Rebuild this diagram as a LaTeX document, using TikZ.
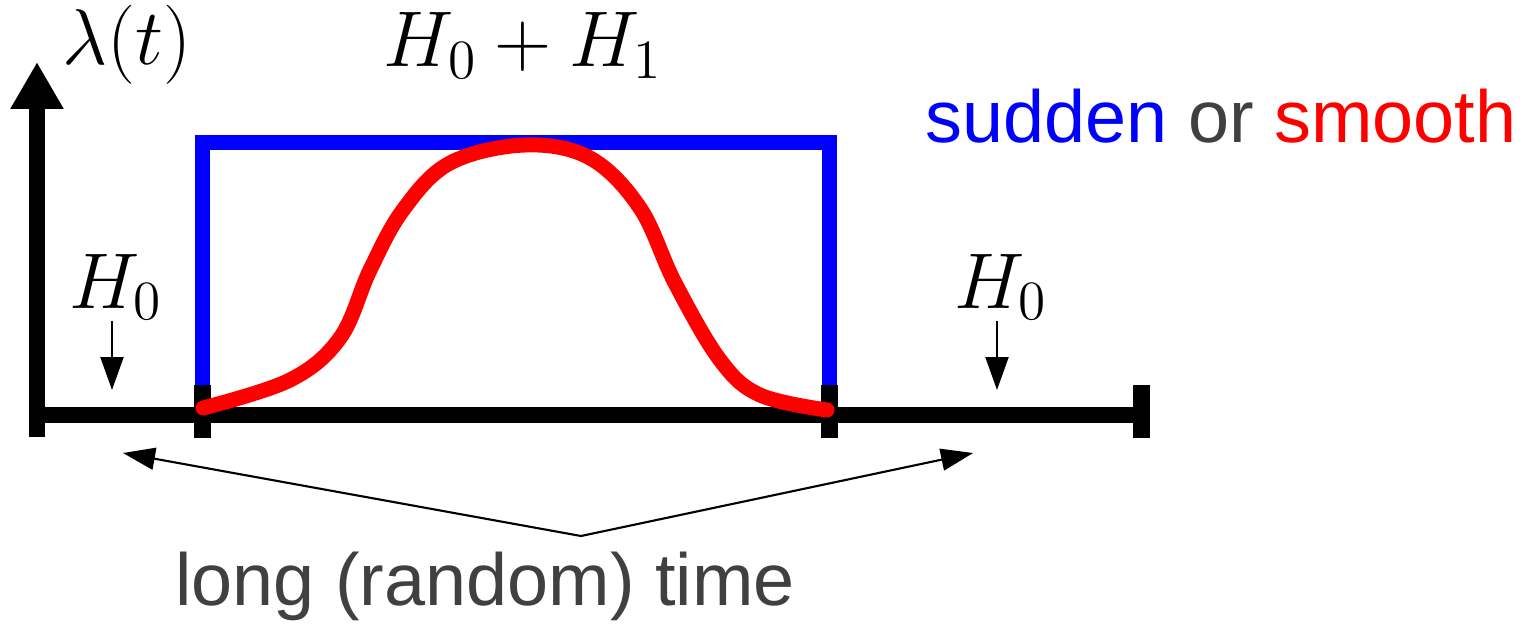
\RequirePackage{fix-cm}
\documentclass[tikz,border=0pt]{standalone}
\usepackage{fontspec}
\setsansfont{Liberation Sans}
\usepackage{tikz}
\usetikzlibrary{arrows.meta}

\begin{document}
\begin{tikzpicture}[x=1cm,y=1cm]
	\definecolor{color1}{HTML}{0000FF}
	\definecolor{color2}{HTML}{FF0000}
	\definecolor{color3}{HTML}{404040}
	\tikzset{
		axisline/.style={line width=0.16cm, black},
		tickline/.style={line width=0.17cm, black},
		mathlabel/.style={inner sep=0pt, anchor=base, font=\fontsize{22.5}{27}\selectfont},
		textlabel/.style={inner sep=0pt, anchor=base, font=\sffamily\fontsize{21}{25}\selectfont, text=color3},
		smallarrow/.style={line width=0.6pt, -{Triangle[width=0.23cm,length=0.33cm]}},
		timearrow/.style={line width=0.6pt, -{Triangle[width=0.22cm,length=0.32cm]}}
	}
	\useasboundingbox (0,0) rectangle (15.24,6.23);
	%% Coordinates ------
	\coordinate (O) at (0.37,1.86);
	\coordinate (ytip) at (0.37,5.61);
	\coordinate (xstart) at (0.37,2.08);
	\coordinate (xend) at (11.41,2.08);
	\coordinate (t1) at (2.02,2.08);
	\coordinate (t2) at (8.29,2.08);
	\coordinate (h0ltip) at (1.12,2.33);
	\coordinate (h0rtip) at (9.97,2.33);
	\coordinate (apex) at (5.81,0.87);
	\coordinate (ltip) at (1.23,1.70);
	\coordinate (rtip) at (9.73,1.70);
	%% Labels ---------
	\node[mathlabel] (lam) at (1.27,5.58) {$\lambda(t)$};
	\node[mathlabel] (h01) at (5.23,5.56) {$H_0+H_1$};
	\node[mathlabel] (h0l) at (1.16,3.15) {$H_0$};
	\node[mathlabel] (h0r) at (10.01,3.15) {$H_0$};
	\node[textlabel] (mode) at (12.21,4.81) {\textcolor{color1}{sudden} or \textcolor{color2}{smooth}};
	\node[textlabel] (tlbl) at (4.85,0.18) {long (random) time};
	%% Axes ---------
	\draw[axisline, -{Triangle[width=0.5cm,length=0.47cm]}] (O) -- (ytip);
	\draw[axisline] (xstart) -- (xend);
	\draw[tickline] ([yshift=-0.23cm]t1) -- ([yshift=0.30cm]t1);
	\draw[tickline] ([yshift=-0.23cm]t2) -- ([yshift=0.30cm]t2);
	\draw[tickline] ([yshift=-0.23cm]xend) -- ([yshift=0.30cm]xend);
	%% Pulses ---------
	\draw[line width=0.15cm, color1] ([yshift=0.30cm]t1) -- (2.02,4.80) -- (8.29,4.80) -- ([yshift=0.30cm]t2);
	\draw[line width=0.15cm, color2, line cap=round, line join=round] plot[smooth, tension=0.6] coordinates {
		(2.03,2.15) (2.90,2.43) (3.40,2.85) (3.70,3.53) (4.03,4.13) (4.50,4.60) (5.25,4.78)
		(5.90,4.65) (6.40,4.15) (6.75,3.40) (7.20,2.63) (7.60,2.28) (8.27,2.13)};
	%% Arrows ---------
	\draw[smallarrow] (h0l.south -| h0ltip) -- (h0ltip);
	\draw[smallarrow] (h0r.south -| h0rtip) -- (h0rtip);
	\draw[timearrow] (apex) -- (ltip);
	\draw[timearrow] (apex) -- (rtip);
\end{tikzpicture}
\end{document}
